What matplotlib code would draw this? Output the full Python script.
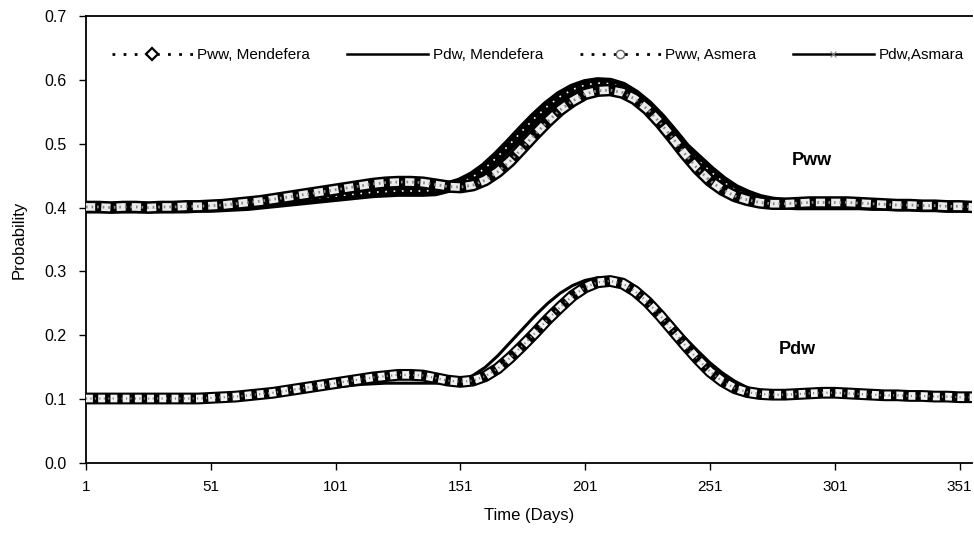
import matplotlib
matplotlib.use("Agg")
import matplotlib.pyplot as plt
from matplotlib.lines import Line2D

plt.rcParams['font.family'] = ['Liberation Sans', 'DejaVu Sans']

days = list(range(1, 362, 5))

pww_mendefera = [.400, .400, .400, .400, .400, .400, .400, .400, .400, .401,
                 .401, .402, .403, .404, .406, .408, .410, .412, .414, .416,
                 .418, .420, .422, .424, .425, .426, .426, .426, .427, .432,
                 .438, .448, .462, .480, .500, .521, .541, .559, .574, .585,
                 .592, .595, .594, .588, .576, .560, .540, .517, .493, .475,
                 .457, .441, .428, .419, .412, .408, .406, .405, .405, .405,
                 .405, .405, .405, .404, .404, .403, .403, .402, .402, .401,
                 .401, .401, .400]

pww_asmera = [.401, .401, .400, .401, .401, .400, .401, .401, .402, .402,
              .403, .404, .406, .408, .410, .413, .416, .419, .422, .425,
              .428, .431, .434, .437, .439, .440, .440, .439, .436, .433,
              .432, .435, .443, .456, .473, .494, .515, .535, .553, .567,
              .578, .583, .584, .580, .570, .554, .533, .509, .484, .461,
              .442, .428, .418, .412, .408, .406, .406, .407, .408, .408,
              .408, .408, .407, .406, .405, .404, .404, .403, .403, .402,
              .402, .401, .401]

pdw_mendefera = [.100, .100, .100, .100, .100, .100, .100, .100, .100, .100,
                 .101, .102, .103, .105, .107, .109, .111, .113, .115, .117,
                 .119, .121, .123, .124, .125, .125, .125, .125, .125, .126,
                 .129, .137, .150, .168, .189, .210, .231, .250, .266, .278,
                 .286, .290, .290, .285, .274, .258, .239, .218, .196, .176,
                 .157, .141, .128, .118, .111, .107, .106, .106, .105, .105,
                 .105, .105, .105, .105, .105, .105, .104, .104, .103, .103,
                 .102, .102, .102]

pdw_asmara = [.101, .101, .101, .101, .101, .101, .101, .101, .101, .101,
              .102, .103, .104, .106, .108, .110, .113, .116, .119, .122,
              .125, .128, .131, .134, .136, .138, .138, .137, .133, .129,
              .127, .129, .136, .148, .165, .184, .204, .225, .244, .262,
              .275, .283, .285, .281, .269, .252, .231, .208, .185, .163,
              .143, .128, .117, .111, .108, .107, .107, .108, .109, .110,
              .110, .109, .108, .107, .106, .106, .105, .105, .104, .104,
              .103, .103, .103]

xticks = [1, 51, 101, 151, 201, 251, 301, 351]
yticks = [0.0, 0.1, 0.2, 0.3, 0.4, 0.5, 0.6, 0.7]
legend_labels = ["Pww, Mendefera", "Pdw, Mendefera", "Pww, Asmera", "Pdw,Asmara"]

fig = plt.figure(figsize=(9.74, 5.4), dpi=100)
ax = fig.add_axes([86 / 974, 1 - 463 / 540, (972 - 86) / 974, (463 - 16) / 540])

# Pww Mendefera: dark band
ax.plot(days, pww_mendefera, color='black', lw=8.5, solid_capstyle='butt', zorder=2)
ax.plot(days, pww_mendefera, color='white', lw=1.2, ls=(0, (1, 4)), zorder=2.1)
# Pww Asmera: speckled band
ax.plot(days, pww_asmera, color='black', lw=9, solid_capstyle='butt', zorder=3)
ax.plot(days, pww_asmera, color='#ececec', lw=5.5, ls=(0, (1.2, 0.8)), zorder=3.1)
ax.plot(days, pww_asmera, color='#8a8a8a', lw=2, ls=(0, (0.6, 1.4)), zorder=3.2)

# Pdw Mendefera: solid line
ax.plot(days, pdw_mendefera, color='black', lw=2.2, zorder=2)
# Pdw Asmara: hatched band
ax.plot(days, pdw_asmara, color='black', lw=8.5, solid_capstyle='butt', zorder=3)
ax.plot(days, pdw_asmara, color='#f2f2f2', lw=5.5, ls=(0, (0.9, 0.7)), zorder=3.1)
ax.plot(days, pdw_asmara, color='#808080', lw=1.6, ls=(0, (0.5, 1.5)), zorder=3.2)

ax.text(292, 0.474, "Pww", fontsize=13, fontweight='bold', ha='center', va='center')
ax.text(286, 0.177, "Pdw", fontsize=13, fontweight='bold', ha='center', va='center')

ax.set_xlim(1, 356)
ax.set_ylim(0, 0.7)
ax.set_xticks(xticks)
ax.set_xticklabels([str(t) for t in xticks], fontsize=11)
ax.set_yticks(yticks)
ax.set_yticklabels([f"{t:.1f}" for t in yticks], fontsize=11.5)
ax.tick_params(axis='y', direction='out', length=5, width=1, pad=9, colors='black')
ax.tick_params(axis='x', direction='out', length=5, width=1, pad=7, colors='black')
ax.set_xlabel("Time (Days)", fontsize=12, labelpad=10)
ax.set_ylabel("Probability", fontsize=12, labelpad=13)
ax.spines['right'].set_visible(False)
for s in ['left', 'bottom', 'top']:
    ax.spines[s].set_linewidth(1.3)

handles = [
    Line2D([], [], color='black', lw=2, ls=(0, (1, 3)), marker='D',
           markerfacecolor='white', markeredgecolor='black', markersize=6, markeredgewidth=1.6),
    Line2D([], [], color='black', lw=1.8),
    Line2D([], [], color='black', lw=2, ls=(0, (1, 3)), marker='o',
           markerfacecolor='white', markeredgecolor='#666666', markersize=6),
    Line2D([], [], color='black', lw=1.8, marker='x', markersize=5,
           markeredgecolor='#888888', markeredgewidth=0.8),
]
ax.legend(handles, legend_labels, loc='center', bbox_to_anchor=(0.51, 0.912),
          ncol=4, frameon=False, handlelength=5.3, fontsize=11,
          columnspacing=2.4, handletextpad=0.3)

fig.savefig("out.png", dpi=100)
